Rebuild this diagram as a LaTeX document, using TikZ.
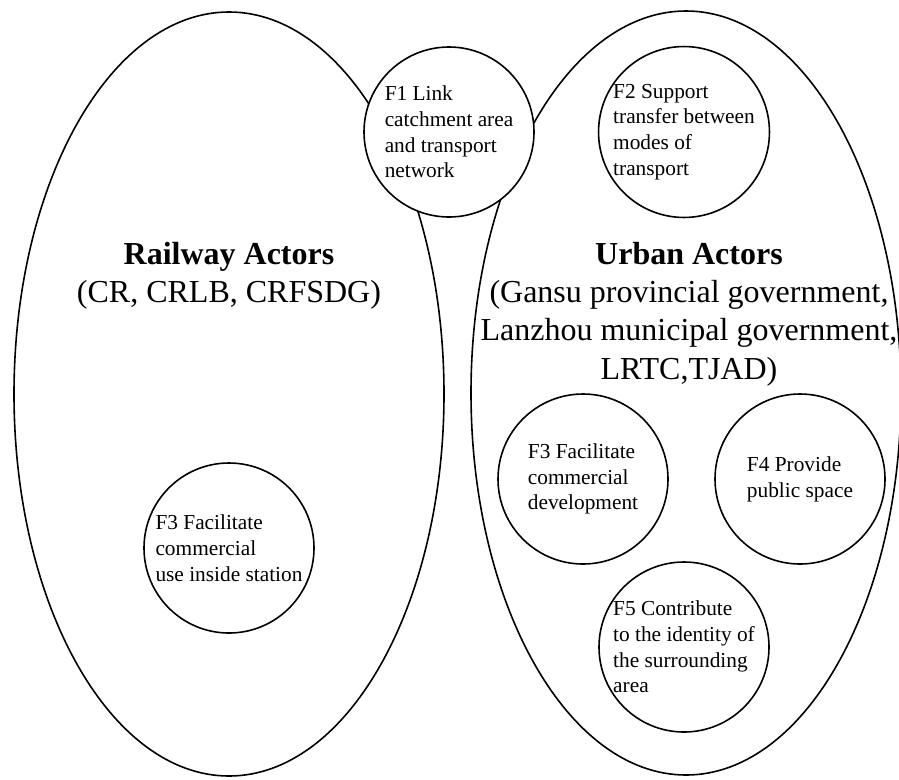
\documentclass[tikz,border=0pt]{standalone}
\usepackage{fontspec}
\setmainfont{Liberation Serif}
\usetikzlibrary{shapes.geometric}

\begin{document}
\begin{tikzpicture}[x=0.75pt, y=-0.75pt, line width=1.2pt,
	actors/.style={draw, ellipse, inner sep=0pt, minimum width=322.5pt, minimum height=573pt},
	func/.style={draw, circle, fill=white, inner sep=0pt, minimum size=127.5pt, align=left, font=\fontsize{16}{19.3}\selectfont},
	heading/.style={anchor=north, inner sep=0pt, align=center, font=\fontsize{24}{28.8}\selectfont}]
			\useasboundingbox (0,0) rectangle (899,779);
			%Actor groups
			\node[actors] (rail) at (229,394) {};
			\node[actors] (urban) at (686,393) {};
			\node[heading] (railtitle) at (229,241) {\textbf{Railway Actors}\\(CR, CRLB, CRFSDG)};
			\node[heading] (urbantitle) at (689,241) {\textbf{Urban Actors}\\(Gansu provincial government,\\Lanzhou municipal government,\\LRTC,TJAD)};
			%Shared
			\node[func] (f1) at (449,132) {F1 Link\\catchment area\\and transport\\network};
			%Railway
			\node[func] (f3rail) at (229,548) {F3 Facilitate\\commercial\\use inside station};
			%Urban
			\node[func] (f2) at (684,132) {F2 Support\\transfer between\\modes of\\transport};
			\node[func] (f3urban) at (583,479) {F3 Facilitate\\commercial\\development};
			\node[func] (f4) at (800,479) {F4 Provide\\public space};
			\node[func] (f5) at (684,647) {F5 Contribute\\to the identity of\\the surrounding\\area};
\end{tikzpicture}
\end{document}
